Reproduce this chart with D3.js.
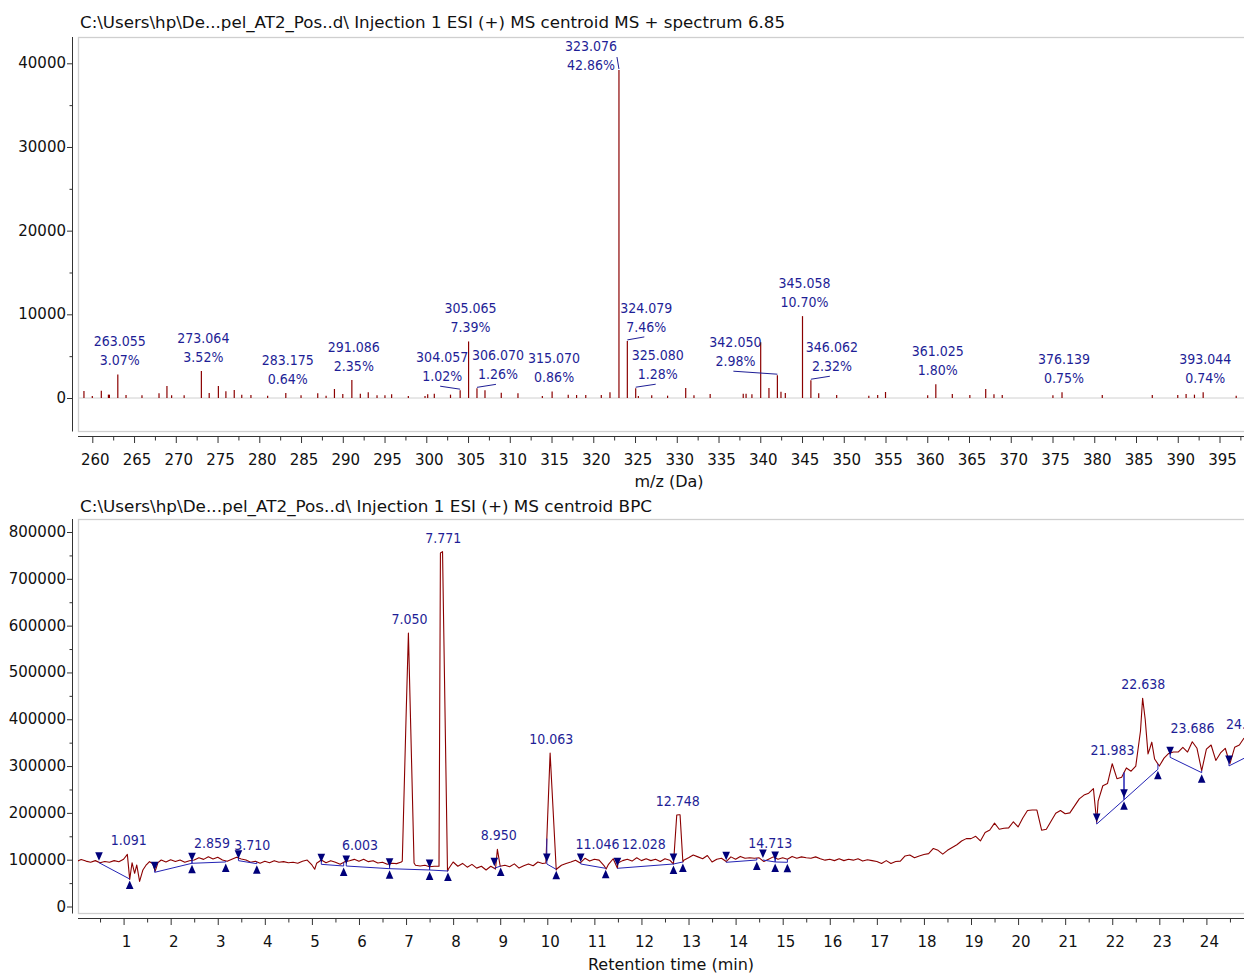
<!DOCTYPE html>
<html>
<head>
<meta charset="utf-8">
<script src="https://cdn.jsdelivr.net/npm/d3@7"></script>
<style>
  html, body { margin: 0; padding: 0; background: #fff; }
  svg { display: block; font-family: "DejaVu Sans", sans-serif; }
  .cond { font-family: "DejaVu Sans Condensed", "DejaVu Sans", sans-serif; font-stretch: condensed; }
</style>
</head>
<body>
<svg id="chart" width="1244" height="974"></svg>
<script>
// ---------------- Mass spectrum (6.85 min) ----------------
const msTitle = "C:\\Users\\hp\\De...pel_AT2_Pos..d\\ Injection 1 ESI (+) MS centroid MS + spectrum 6.85";

// unannotated centroids
const msMz = [259.0, 260.0, 261.08, 261.93, 262.05, 264.04, 265.95, 267.99, 268.94, 269.5,
  271.0, 274.0, 275.1, 276.0, 277.0, 277.9, 279.0, 281.0, 285.0, 287.0,
  288.0, 289.0, 290.0, 292.1, 293.05, 294.1, 295.05, 295.85, 297.85, 299.85,
  300.17, 300.96, 302.9, 307.03, 308.98, 310.98, 313.9, 317.0, 318.0, 319.1,
  320.96, 322.0, 325.4, 327.0, 328.9, 331.07, 332.06, 334.0, 337.96, 338.3,
  339.0, 340.05, 341.04, 342.48, 343.0, 347.0, 349.15, 353.0, 354.06, 355.0,
  360.05, 363.0, 365.1, 367.0, 367.99, 368.98, 375.05, 380.96, 386.95, 390.0,
  391.0, 392.0, 397.0];
const msIntensity = [840, 240, 870, 400, 400, 360, 320, 560, 1430, 320,
  320, 600, 1430, 800, 955, 400, 360, 280, 320, 560,
  280, 1075, 480, 520, 680, 320, 320, 440, 240, 240,
  440, 520, 400, 915, 640, 560, 240, 400, 360, 360,
  360, 680, 240, 320, 280, 1194, 320, 478, 520, 520,
  440, 6650, 1194, 756, 600, 560, 360, 280, 360, 716,
  320, 478, 360, 1075, 440, 360, 320, 360, 360, 360,
  478, 400, 280];

// annotated centroids: m/z and percent of total
const annotMz = [263.055, 273.064, 283.175, 291.086, 304.057, 305.065, 306.070, 315.070, 323.076,
  324.079, 325.080, 342.050, 345.058, 346.062, 361.025, 376.139, 393.044];
const annotPct = [3.07, 3.52, 0.64, 2.35, 1.02, 7.39, 1.26, 0.86, 42.86,
  7.46, 1.28, 2.98, 10.70, 2.32, 1.80, 0.75, 0.74];
const spectrumTotal = 91450; // 100 %

const msMajorTicks = [260, 265, 270, 275, 280, 285, 290, 295, 300, 305, 310, 315, 320, 325, 330,
  335, 340, 345, 350, 355, 360, 365, 370, 375, 380, 385, 390, 395];
const msMinorTicks = [257.5, 262.5, 267.5, 272.5, 277.5, 282.5, 287.5, 292.5, 297.5, 302.5, 307.5,
  312.5, 317.5, 322.5, 327.5, 332.5, 337.5, 342.5, 347.5, 352.5, 357.5, 362.5, 367.5, 372.5,
  377.5, 382.5, 387.5, 392.5, 397.5];
const msIntMajor = [0, 10000, 20000, 30000, 40000];
const msIntMinor = [5000, 15000, 25000, 35000];

// ---------------- Base peak chromatogram ----------------
const bpcTitle = "C:\\Users\\hp\\De...pel_AT2_Pos..d\\ Injection 1 ESI (+) MS centroid BPC";

// intensities on a 0.1 min grid starting at 0 min
const bpcGridStep = 0.1;
const bpcGrid = [
  96000, 100500, 97000, 94500, 98000, 93500, 96000, 94500, 98000, 95500,
  101000, 90000, 85000, 77000, 74500, 90700, 92800, 84000, 99300, 95000,
  100000, 96000, 99300, 94400, 97900, 99300, 104200, 100700, 106400, 101400,
  105000, 99300, 96500, 100700, 105000, 101400, 99300, 94400, 96500, 92300,
  96500, 93600, 97900, 94400, 95800, 93600, 94400, 92300, 96500, 99300,
  88700, 92300, 99300, 93600, 97900, 94400, 90100, 95800, 97900, 100700,
  96500, 100700, 95800, 97900, 93000, 94400, 90100, 92300, 91600, 95000,
  403000, 380000, 88000, 86500, 88000, 85000, 86000, 86000, 595000, 80000,
  95000, 86000, 92000, 84000, 90000, 82000, 86000, 78000, 86000, 80000,
  86000, 88000, 85000, 91000, 82000, 87000, 91000, 87000, 95000, 92000,
  171000, 251000, 80000, 88000, 92000, 95000, 99000, 93000, 103000, 97000,
  101000, 99000, 88000, 90000, 102000, 93000, 98000, 101000, 97000, 104000,
  98000, 102000, 98000, 101000, 96000, 102000, 99000, 120700, 196000, 99000,
  104000, 110000, 106000, 102000, 109000, 95000, 101000, 103000, 96000, 106000,
  101000, 107000, 103000, 104000, 103000, 104000, 96000, 101000, 106000, 101000,
  104000, 101000, 107000, 103000, 106000, 104000, 103000, 106000, 102000, 99000,
  101000, 98000, 102000, 98000, 101000, 99000, 102000, 97000, 100000, 98000,
  96000, 92000, 98000, 92000, 96000, 97000, 108000, 110000, 104000, 108000,
  111000, 113000, 124000, 120000, 112000, 120000, 126000, 132000, 140000, 145000,
  145000, 150000, 140000, 158000, 163500, 178000, 165000, 167000, 168000, 181000,
  170000, 189000, 205000, 206000, 206000, 163000, 165000, 182000, 199000, 205000,
  198000, 200000, 215000, 230000, 238000, 242000, 252000, 225000, 258000, 263000,
  305000, 273000, 276000, 296000, 289000, 300000, 375000, 400000, 338000, 315000,
  300000, 317000, 327000, 330000, 330000, 340000, 330000, 352000, 338000, 290000,
  336000, 345000, 312000, 328000, 338000, 305000, 340000, 345000, 360000];

// scans between grid nodes (sharp peaks and dips)
const bpcExtraRt = [1.08, 1.13, 1.18, 1.235, 1.28, 1.34, 1.41, 1.48, 1.55, 1.625,
  1.67, 1.73, 5.06, 6.92, 7.05, 7.17, 7.73, 7.775, 7.88, 8.94,
  9.97, 10.06, 10.19, 11.25, 11.49, 12.68, 12.75, 12.82, 12.88, 21.67,
  22.645, 22.76, 22.84];
const bpcExtraInt = [111400, 58000, 93500, 71000, 88700, 53600, 78000, 88700, 95800, 90800,
  75000, 93600, 79500, 97000, 584000, 93000, 755000, 758000, 76000, 122000,
  93000, 328000, 78000, 80000, 81600, 90800, 195500, 196000, 95000, 180000,
  445000, 326000, 351000];

// integrated peaks: apex label, baseline start and end
const peakLabel = ["1.091", "", "2.859", "3.710", "", "6.003", "7.050", "7.771", "8.950", "10.063",
  "11.046", "12.028", "12.748", "", "14.713", "", "21.983", "22.638", "23.686", "24.862"];
const peakStartRt = [0.478, 1.66, 2.453, 3.44, 5.20, 5.73, 6.65, 7.50, 8.875, 9.99,
  10.71, 11.49, 12.68, 13.80, 14.58, 14.84, 21.67, 22.25, 23.23, 24.48];
const peakStartInt = [93600, 73000, 92300, 97900, 90100, 86500, 80800, 78000, 81600, 90800,
  90800, 81600, 90800, 94400, 99300, 95100, 176200, 228000, 318700, 300300];
const peakEndRt = [1.13, 2.453, 3.17, 3.83, 5.675, 6.65, 7.50, 7.89, 9.01, 10.19,
  11.24, 12.68, 12.88, 14.45, 14.84, 15.10, 22.25, 22.97, 23.90, 25.0];
const peakEndInt = [58700, 92300, 95100, 91500, 86500, 80800, 78000, 75800, 86500, 79400,
  81600, 90800, 95100, 99300, 95100, 94400, 228000, 293100, 285900, 326800];

const rtMajorTicks = [1, 2, 3, 4, 5, 6, 7, 8, 9, 10, 11, 12, 13, 14, 15, 16, 17, 18, 19, 20, 21, 22, 23, 24];
const rtMinorTicks = [0.5, 1.5, 2.5, 3.5, 4.5, 5.5, 6.5, 7.5, 8.5, 9.5, 10.5, 11.5, 12.5, 13.5, 14.5,
  15.5, 16.5, 17.5, 18.5, 19.5, 20.5, 21.5, 22.5, 23.5, 24.5];
const bpcIntMajor = [0, 100000, 200000, 300000, 400000, 500000, 600000, 700000, 800000];
const bpcIntMinor = [50000, 150000, 250000, 350000, 450000, 550000, 650000, 750000];

// ---------------- drawing ----------------
const svg = d3.select("#chart");
const W = 1244;
const frameLeft = 78, axisX = 72;
const darkRed = "#8b0000", labelBlue = "#1e1e96", markBlue = "#00007a", baseBlue = "#2323b4";
const textCol = "#111";

const defs = svg.append("defs");

function panelFrame(y0, y1, axisY, clipId) {
  defs.append("clipPath").attr("id", clipId)
    .append("rect").attr("x", frameLeft).attr("y", y0).attr("width", W - frameLeft + 10).attr("height", y1 - y0);
  svg.append("rect")
    .attr("x", frameLeft + 0.5).attr("y", y0 + 0.5)
    .attr("width", W - frameLeft + 10).attr("height", y1 - y0)
    .attr("fill", "none").attr("stroke", "#cfcfcf").attr("stroke-width", 1.3);
  svg.append("line").attr("x1", axisX + 0.5).attr("x2", axisX + 0.5).attr("y1", y0).attr("y2", y1 + 0.5)
    .attr("stroke", "#333").attr("stroke-width", 1);
  svg.append("line").attr("x1", frameLeft).attr("x2", W).attr("y1", axisY + 0.5).attr("y2", axisY + 0.5)
    .attr("stroke", "#333").attr("stroke-width", 1);
}

function styleAxis(g) {
  g.select(".domain").remove();
  g.selectAll(".tick line").attr("stroke", "#333");
  g.selectAll(".tick text").attr("fill", textCol).attr("font-size", 15)
    .attr("font-family", "'DejaVu Sans',sans-serif");
}

function drawAxes(x, y, xMajor, xMinor, yMajor, yMinor, axisY, xFmt) {
  svg.append("g").attr("transform", `translate(${axisX + 0.5},0)`)
    .call(d3.axisLeft(y).tickValues(yMinor).tickSize(3).tickFormat(""))
    .call(styleAxis);
  svg.append("g").attr("transform", `translate(${axisX + 0.5},0)`)
    .call(d3.axisLeft(y).tickValues(yMajor).tickSize(5.5).tickPadding(1).tickFormat(d3.format("d")))
    .call(styleAxis)
    .call(g => g.selectAll(".tick text").attr("dy", "0.3em"));
  svg.append("g").attr("transform", `translate(0,${axisY + 0.5})`)
    .call(d3.axisBottom(x).tickValues(xMinor.filter(v => x(v) >= frameLeft && x(v) <= W)).tickSize(4).tickFormat(""))
    .call(styleAxis);
  svg.append("g").attr("transform", `translate(0,${axisY + 0.5})`)
    .call(d3.axisBottom(x).tickValues(xMajor).tickSize(6.5).tickPadding(11).tickFormat(xFmt))
    .call(styleAxis)
    .call(g => g.selectAll(".tick text").attr("dx", 2.5));
}

function title(text, y, width) {
  svg.append("text").attr("x", 80).attr("y", y).attr("dy", "0.35em")
    .attr("font-size", 16.5).attr("fill", textCol)
    .attr("textLength", width).attr("lengthAdjust", "spacingAndGlyphs")
    .text(text);
}

// ----- top panel -----
const msTop = 37, msBottom = 431, msAxisY = 436;
const xMs = d3.scaleLinear().domain([260, 395]).range([92.3, 1219.5]);
const yMs = d3.scaleLinear().domain([0, 40000]).range([398, 63.3]);

title(msTitle, 22, 705);
panelFrame(msTop, msBottom, msAxisY, "clipMs");
drawAxes(xMs, yMs, msMajorTicks, msMinorTicks, msIntMajor, msIntMinor, msAxisY, d3.format("d"));
svg.append("text").attr("x", 669).attr("y", 481).attr("dy", "0.35em").attr("text-anchor", "middle")
  .attr("font-size", 16).attr("fill", textCol).text("m/z (Da)");

const sticks = msMz.map((m, i) => ({ mz: m, v: msIntensity[i] }))
  .concat(annotMz.map((m, i) => ({ mz: m, v: annotPct[i] / 100 * spectrumTotal })));
const gMs = svg.append("g").attr("clip-path", "url(#clipMs)");
gMs.append("line").attr("x1", frameLeft).attr("x2", W).attr("y1", yMs(0)).attr("y2", yMs(0))
  .attr("stroke", "#d0d0d0").attr("stroke-width", 1);
gMs.selectAll("line.stick").data(sticks).join("line").attr("class", "stick")
  .attr("x1", d => xMs(d.mz)).attr("x2", d => xMs(d.mz))
  .attr("y1", yMs(0)).attr("y2", d => yMs(d.v))
  .attr("stroke", darkRed).attr("stroke-width", 1.2);

// labels moved aside from their peak, joined by a leader line
const msLabelShift = {
  "304.057": { dx: -20 }, "306.070": { dx: 19 }, "323.076": { dx: -30, dy: 9, lead: [26, -8] },
  "324.079": { dx: 17 }, "325.080": { dx: 20 }, "342.050": { dx: -44 }, "346.062": { dx: 19 }
};
const gAnn = svg.append("g").attr("class", "cond").attr("fill", labelBlue).attr("font-size", 14).attr("text-anchor", "middle");
annotMz.forEach((m, i) => {
  const key = m.toFixed(3);
  const v = annotPct[i] / 100 * spectrumTotal;
  const px = xMs(m), py = yMs(v);
  const s = msLabelShift[key] || {};
  const cx = px + 2 + (s.dx || 0);
  const cy2 = py - 14 + (s.dy || 0);
  gAnn.append("text").attr("x", cx).attr("y", cy2 - 19).attr("dy", "0.35em").text(key);
  gAnn.append("text").attr("x", cx).attr("y", cy2).attr("dy", "0.35em").text(annotPct[i].toFixed(2) + "%");
  if (s.dx) {
    const lead = s.lead || [-2, 10];
    svg.append("line").attr("x1", cx + lead[0]).attr("y1", cy2 + lead[1])
      .attr("x2", px).attr("y2", py - 1)
      .attr("stroke", labelBlue).attr("stroke-width", 1);
  }
});

// ----- bottom panel -----
const bpcTop = 519, bpcBottom = 913, bpcAxisY = 918;
const xRt = d3.scaleLinear().domain([0, 24]).range([76.5, 1206.4]);
const yBpc = d3.scaleLinear().domain([0, 800000]).range([906.5, 532]);

title(bpcTitle, 506, 572);
panelFrame(bpcTop, bpcBottom, bpcAxisY, "clipBpc");
drawAxes(xRt, yBpc, rtMajorTicks, rtMinorTicks, bpcIntMajor, bpcIntMinor, bpcAxisY, d3.format("d"));
svg.append("text").attr("x", 671).attr("y", 964).attr("dy", "0.35em").attr("text-anchor", "middle")
  .attr("font-size", 16).attr("fill", textCol).text("Retention time (min)");

const scans = bpcGrid.map((v, i) => ({ t: +(i * bpcGridStep).toFixed(2), v }))
  .concat(bpcExtraRt.map((t, i) => ({ t, v: bpcExtraInt[i] })))
  .sort((a, b) => a.t - b.t);

const gBpc = svg.append("g").attr("clip-path", "url(#clipBpc)");
gBpc.append("path").datum(scans)
  .attr("d", d3.line().x(d => xRt(d.t)).y(d => yBpc(d.v)))
  .attr("fill", "none").attr("stroke", darkRed).attr("stroke-width", 1.1).attr("stroke-linejoin", "round");

function traceAt(t) {
  const i = d3.bisector(d => d.t).left(scans, t);
  if (i <= 0) return scans[0].v;
  if (i >= scans.length) return scans[scans.length - 1].v;
  const a = scans[i - 1], b = scans[i];
  return a.v + (b.v - a.v) * (t - a.t) / (b.t - a.t);
}

const peaks = peakLabel.map((lab, i) => ({
  lab, t0: peakStartRt[i], v0: peakStartInt[i], t1: peakEndRt[i], v1: peakEndInt[i]
}));

// baselines and drop lines
peaks.forEach(p => {
  gBpc.append("line")
    .attr("x1", xRt(p.t0)).attr("y1", yBpc(p.v0)).attr("x2", xRt(p.t1)).attr("y2", yBpc(p.v1))
    .attr("stroke", baseBlue).attr("stroke-width", 1);
  [[p.t0, p.v0], [p.t1, p.v1]].forEach(([t, v]) => {
    const tv = traceAt(t);
    if (tv > v) {
      gBpc.append("line").attr("x1", xRt(t)).attr("x2", xRt(t))
        .attr("y1", yBpc(tv)).attr("y2", yBpc(v))
        .attr("stroke", baseBlue).attr("stroke-width", 1);
    }
  });
});

// start (down) and end (up) markers
const tw = 3.8, th = 8.5;
peaks.forEach(p => {
  const sx = xRt(p.t0), sy = yBpc(p.v0) - 2;
  gBpc.append("path").attr("d", `M${sx - tw},${sy - th}L${sx + tw},${sy - th}L${sx},${sy}Z`).attr("fill", markBlue);
  const ex = xRt(p.t1), ey = yBpc(p.v1) + 1.5;
  gBpc.append("path").attr("d", `M${ex - tw},${ey + th}L${ex + tw},${ey + th}L${ex},${ey}Z`).attr("fill", markBlue);
});

// apex labels
const gPk = svg.append("g").attr("class", "cond").attr("fill", labelBlue).attr("font-size", 14).attr("text-anchor", "middle");
peaks.filter(p => p.lab).forEach(p => {
  const apex = d3.max(scans.filter(d => d.t >= p.t0 && d.t <= p.t1), d => d.v);
  gPk.append("text").attr("x", xRt(+p.lab) + 1).attr("y", yBpc(apex) - 14).attr("dy", "0.35em").text(p.lab);
});
</script>
</body>
</html>
